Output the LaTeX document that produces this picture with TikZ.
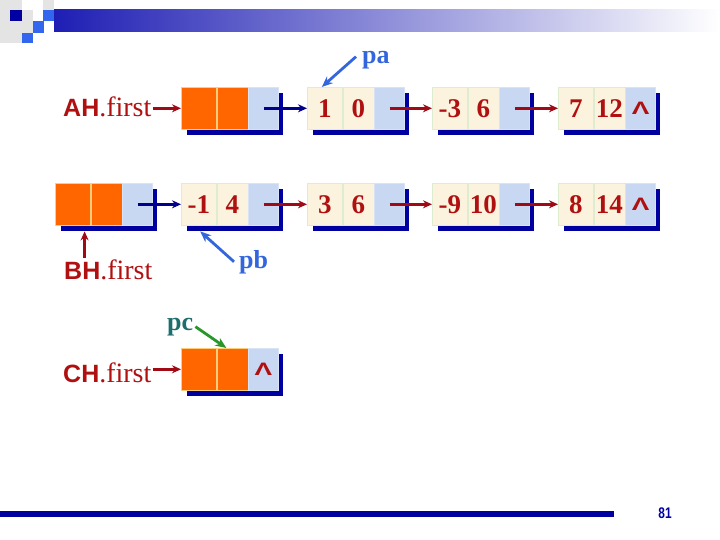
\documentclass[tikz,border=0pt]{standalone}
\usepackage{fontspec}
\setmainfont{Liberation Serif}
\newfontfamily\arialfont{Liberation Sans}
\usetikzlibrary{positioning,arrows.meta}

\definecolor{datared}{RGB}{176,16,16}
\definecolor{linkred}{RGB}{160,10,20}
\definecolor{shadowblue}{RGB}{0,0,160}
\definecolor{linkblue}{RGB}{0,0,140}
\definecolor{headorange}{RGB}{255,102,0}
\definecolor{headline}{RGB}{255,204,120}
\definecolor{cellcream}{RGB}{251,243,222}
\definecolor{cellline}{RGB}{222,236,208}
\definecolor{cellblue}{RGB}{200,216,242}
\definecolor{ptrline}{RGB}{216,228,246}
\definecolor{ptrblue}{RGB}{51,102,221}
\definecolor{ptrteal}{RGB}{30,110,110}
\definecolor{ptrgreen}{RGB}{40,150,40}
\definecolor{barblue}{RGB}{30,30,180}
\definecolor{squareblue}{RGB}{51,102,238}
\definecolor{squaregray}{RGB}{228,228,228}

% null pointer mark
\newcommand{\nullmark}{\raisebox{-3pt}{\scalebox{1.05}[0.72]{Λ}}}

% one list node: name, x, y, style of data cells, data 1, data 2, pointer text
\newcommand{\listnode}[7]{%
  \node[shadowbox, anchor=north west] (#1-s) at (#2+6,#3+6) {};
  \node[#4, minimum width=35pt, anchor=north west] (#1-1) at (#2,#3) {#5};
  \node[#4, minimum width=31pt, right=0pt of #1-1] (#1-2) {#6};
  \node[ptrcell, right=0pt of #1-2] (#1-3) {#7};
}

\begin{document}
\begin{tikzpicture}[x=1pt, y=-1pt]
  \tikzstyle{shadowbox} = [rectangle, fill=shadowblue, minimum width=96pt, minimum height=42pt, inner sep=0pt]
  \tikzstyle{datacell} = [rectangle, draw=cellline, line width=0.6pt, fill=cellcream, minimum height=42pt, inner sep=0pt, text=datared, font=\fontsize{27}{27}\selectfont\bfseries]
  \tikzstyle{headcell} = [rectangle, draw=headline, line width=0.6pt, fill=headorange, minimum height=42pt, inner sep=0pt]
  \tikzstyle{ptrcell} = [rectangle, draw=ptrline, line width=0.6pt, fill=cellblue, minimum width=30pt, minimum height=42pt, inner sep=0pt, text=datared, font=\fontsize{25}{25}\arialfont\bfseries]
  \tikzstyle{headlabel} = [inner sep=1pt, text=datared, font=\fontsize{28}{28}\selectfont]
  \tikzstyle{ptrlabel} = [inner sep=2pt, font=\fontsize{26}{26}\selectfont\bfseries]
  \tikzstyle{redarrow} = [line width=2.8pt, linkred, -{Stealth[length=9pt,width=8pt]}]
  \tikzstyle{bluearrow} = [line width=2.8pt, linkblue, -{Stealth[length=9pt,width=8pt]}]
  \tikzstyle{ptrarrow} = [line width=2.8pt, -{Stealth[length=11pt,width=9pt]}]

  \useasboundingbox (0,0) rectangle (720,540);

  % Title decoration
  \shade[left color=barblue, right color=white] (54,10) rectangle (720,32);
  \fill[squaregray] (0,0) rectangle (22,43);
  \fill[squaregray] (22,10) rectangle (33,33);
  \fill[squaregray] (43,0) rectangle (54,10);
  \fill[shadowblue] (10,10) rectangle (22,21);
  \fill[squareblue] (43,10) rectangle (54,21);
  \fill[squareblue] (33,21) rectangle (44,33);
  \fill[squareblue] (22,33) rectangle (33,43);

  % List A
  \listnode{ah}{181}{87}{headcell}{}{}{}
  \listnode{a1}{307}{87}{datacell}{1}{0}{}
  \listnode{a2}{432}{87}{datacell}{-3}{6}{}
  \listnode{a3}{558}{87}{datacell}{7}{12}{\nullmark}

  % List B
  \listnode{bh}{55}{183}{headcell}{}{}{}
  \listnode{b1}{181}{183}{datacell}{-1}{4}{}
  \listnode{b2}{307}{183}{datacell}{3}{6}{}
  \listnode{b3}{432}{183}{datacell}{-9}{10}{}
  \listnode{b4}{558}{183}{datacell}{8}{14}{\nullmark}

  % List C
  \listnode{ch}{181}{348}{headcell}{}{}{\nullmark}

  % Head labels
  \node[headlabel, anchor=base west] (ahlab) at (62,117) {{\fontsize{25}{25}\arialfont\bfseries AH}.first};
  \node[headlabel, anchor=base west] (bhlab) at (63,279) {{\fontsize{25}{25}\arialfont\bfseries BH}.first};
  \node[headlabel, anchor=base west] (chlab) at (62,382) {{\fontsize{25}{25}\arialfont\bfseries CH}.first};

  % Pointer labels
  \node[ptrlabel, text=ptrblue, anchor=base west] (pa) at (360,64) {pa};
  \node[ptrlabel, text=ptrblue, anchor=base west] (pb) at (237,268) {pb};
  \node[ptrlabel, text=ptrteal, anchor=base west] (pc) at (165,330) {pc};

  % Links
  \draw[redarrow] (ahlab.east |- ah-1.west) -- (ah-1.west);
  \draw[redarrow] (chlab.east |- ch-1.west) -- (ch-1.west);
  \draw[redarrow] ([xshift=-6pt]bh-1.east |- bhlab.north) -- ([xshift=-6pt]bh-1.east |- bh-s.south);
  \draw[bluearrow] (ah-3.center) -- (a1-1.west);
  \draw[redarrow] (a1-3.center) -- (a2-1.west);
  \draw[redarrow] (a2-3.center) -- (a3-1.west);
  \draw[bluearrow] (bh-3.center) -- (b1-1.west);
  \draw[redarrow] (b1-3.center) -- (b2-1.west);
  \draw[redarrow] (b2-3.center) -- (b3-1.west);
  \draw[redarrow] (b3-3.center) -- (b4-1.west);
  \draw[ptrarrow, ptrblue] ([xshift=-4pt,yshift=4pt]pa.west) -- ([xshift=-3pt]a1-1.north);
  \draw[ptrarrow, ptrblue] ([xshift=-3pt]pb.west) -- ([xshift=-35pt]b1-s.south);
  \draw[ptrarrow, ptrgreen] (pc.east) -- ([xshift=-6pt]ch-2.north);

  % Footer
  \fill[shadowblue] (0,511) rectangle (614,517);
  \node[text=shadowblue, font=\fontsize{14}{14}\arialfont\bfseries] (pagenum) at (665,513) {\scalebox{0.85}[1.1]{81}};
\end{tikzpicture}
\end{document}
